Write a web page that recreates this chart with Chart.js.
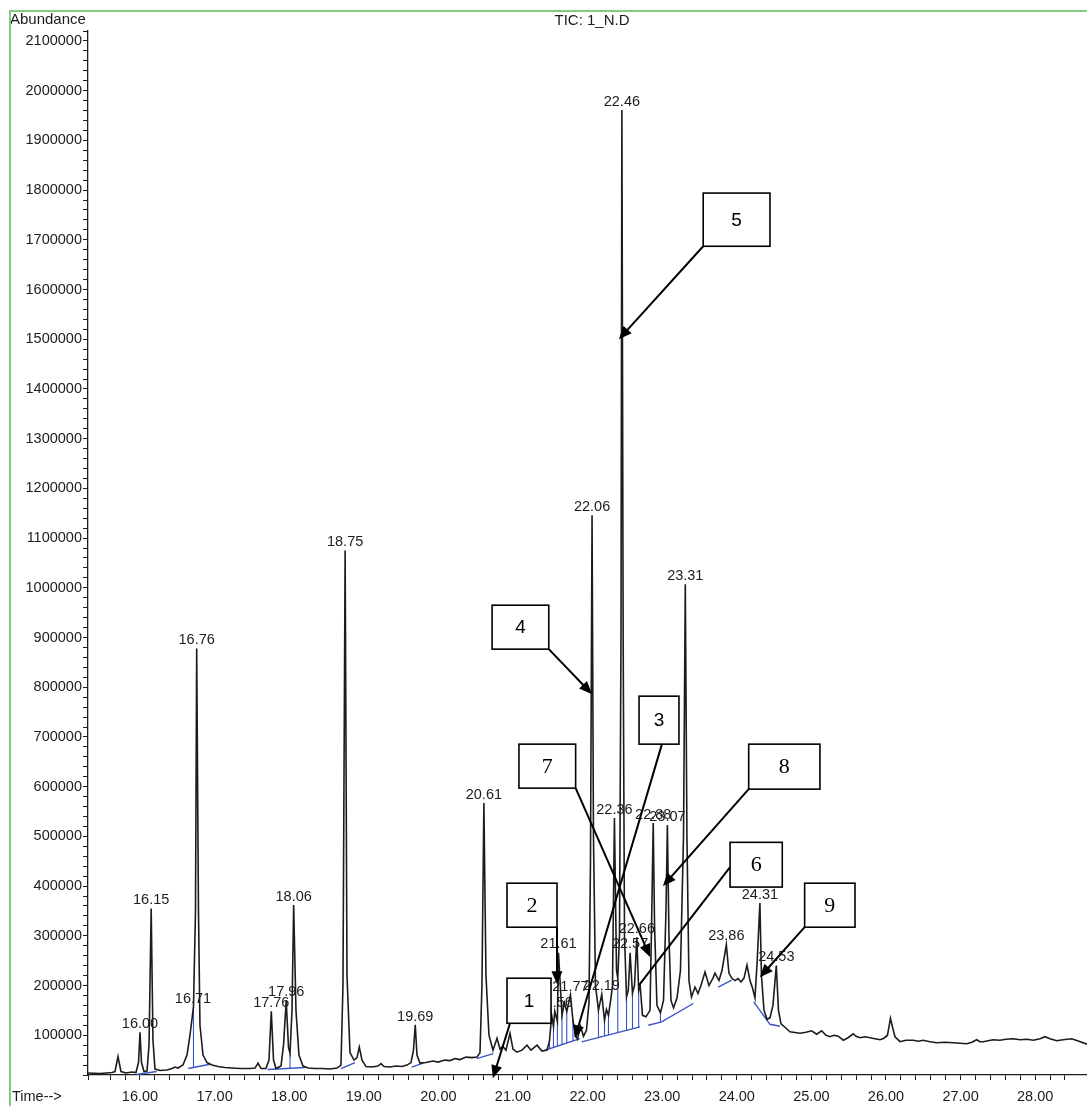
<!DOCTYPE html>
<html>
<head>
<meta charset="utf-8">
<script src="https://cdn.jsdelivr.net/npm/chart.js@4.4.0/dist/chart.umd.min.js"></script>
<style>
  html, body { margin: 0; padding: 0; background: #fff; }
  #wrap { width: 1087px; height: 1106px; }
</style>
</head>
<body>
<div id="wrap"><canvas id="tic" width="1087" height="1106"></canvas></div>
<script>
// TIC trace: [retention time (min), abundance]
const tracePoints = [
  [15.303, 24000], [15.464, 23000], [15.625, 25000], [15.665, 27000], [15.705, 57000], [15.745, 27000],
  [15.812, 24000], [15.893, 26000], [15.946, 25000], [15.98, 45000], [16.00, 106000], [16.02, 45000],
  [16.054, 27000], [16.094, 28000], [16.121, 80000], [16.15, 355000], [16.174, 90000], [16.201, 32000],
  [16.268, 29000], [16.362, 30000], [16.429, 33000], [16.469, 36000], [16.509, 34000], [16.576, 40000],
  [16.63, 60000], [16.67, 100000], [16.717, 157000], [16.744, 350000], [16.76, 878000], [16.784, 350000],
  [16.804, 120000], [16.845, 60000], [16.898, 45000], [16.965, 40000], [17.046, 37000], [17.139, 35000],
  [17.233, 34000], [17.34, 33000], [17.475, 33000], [17.542, 34000], [17.582, 44000], [17.622, 33000],
  [17.689, 33000], [17.729, 50000], [17.76, 148000], [17.79, 50000], [17.823, 33000], [17.89, 38000],
  [17.924, 80000], [17.96, 170000], [17.991, 75000], [18.011, 64000], [18.038, 150000], [18.06, 362000],
  [18.091, 150000], [18.131, 60000], [18.185, 38000], [18.252, 34000], [18.346, 33000], [18.44, 33000],
  [18.547, 32000], [18.641, 34000], [18.694, 40000], [18.721, 200000], [18.75, 1075000], [18.775, 220000],
  [18.815, 65000], [18.869, 50000], [18.909, 55000], [18.94, 76000], [18.976, 50000], [19.03, 37000],
  [19.11, 36000], [19.19, 38000], [19.231, 43000], [19.271, 37000], [19.351, 36000], [19.432, 38000],
  [19.512, 37000], [19.579, 40000], [19.633, 45000], [19.666, 70000], [19.69, 121000], [19.713, 60000],
  [19.753, 44000], [19.834, 45000], [19.928, 48000], [19.995, 46000], [20.088, 50000], [20.156, 49000],
  [20.223, 53000], [20.29, 51000], [20.37, 56000], [20.45, 55000], [20.517, 56000], [20.558, 65000],
  [20.584, 200000], [20.61, 567000], [20.638, 220000], [20.678, 100000], [20.732, 70000], [20.786, 94000],
  [20.826, 72000], [20.862, 78000], [20.906, 70000], [20.96, 104000], [21.00, 72000], [21.054, 66000],
  [21.121, 70000], [21.188, 80000], [21.241, 70000], [21.322, 80000], [21.389, 68000], [21.456, 70000],
  [21.489, 88000], [21.519, 140000], [21.543, 118000], [21.56, 148000], [21.595, 128000], [21.61, 266000],
  [21.657, 140000], [21.69, 165000], [21.721, 148000], [21.77, 181000], [21.804, 130000], [21.838, 100000],
  [21.865, 92000], [21.905, 118000], [21.945, 98000], [21.985, 110000], [22.019, 165000], [22.039, 450000],
  [22.06, 1146000], [22.079, 500000], [22.106, 200000], [22.146, 150000], [22.19, 182000], [22.227, 130000],
  [22.253, 152000], [22.28, 140000], [22.314, 175000], [22.334, 200000], [22.36, 537000], [22.388, 230000],
  [22.405, 215000], [22.428, 300000], [22.448, 900000], [22.46, 1961000], [22.477, 900000], [22.495, 300000],
  [22.522, 177000], [22.546, 190000], [22.57, 266000], [22.602, 185000], [22.629, 200000], [22.66, 297000],
  [22.685, 190000], [22.705, 200000], [22.736, 140000], [22.783, 137000], [22.837, 150000], [22.861, 350000],
  [22.88, 527000], [22.898, 320000], [22.93, 160000], [22.977, 145000], [23.018, 170000], [23.051, 350000],
  [23.07, 523000], [23.091, 300000], [23.118, 170000], [23.152, 155000], [23.199, 175000], [23.245, 230000],
  [23.286, 500000], [23.31, 1007000], [23.332, 500000], [23.359, 210000], [23.393, 177000], [23.44, 197000],
  [23.48, 184000], [23.52, 200000], [23.574, 227000], [23.628, 200000], [23.681, 215000], [23.708, 225000],
  [23.761, 210000], [23.802, 230000], [23.86, 282000], [23.895, 225000], [23.932, 215000], [23.976, 210000],
  [24.016, 214000], [24.057, 207000], [24.097, 215000], [24.137, 241000], [24.177, 210000], [24.211, 195000],
  [24.244, 175000], [24.274, 250000], [24.31, 366000], [24.331, 220000], [24.365, 150000], [24.405, 132000],
  [24.445, 135000], [24.485, 160000], [24.53, 240000], [24.559, 150000], [24.593, 123000], [24.646, 116000],
  [24.713, 107000], [24.847, 104000], [24.928, 106000], [25.004, 109000], [25.071, 102000], [25.138, 109000],
  [25.196, 100000], [25.249, 97000], [25.303, 100000], [25.361, 98000], [25.428, 90000], [25.491, 95000],
  [25.562, 103000], [25.598, 98000], [25.652, 95000], [25.718, 97000], [25.786, 95000], [25.853, 93000],
  [25.92, 91000], [25.973, 94000], [26.02, 100000], [26.044, 120000], [26.06, 134000], [26.085, 118000],
  [26.121, 97000], [26.188, 87000], [26.268, 90000], [26.366, 90000], [26.429, 88000], [26.5, 90000],
  [26.59, 87000], [26.68, 85000], [26.791, 86000], [26.902, 85000], [26.992, 84000], [27.082, 83000],
  [27.153, 86000], [27.216, 91000], [27.26, 87000], [27.305, 87000], [27.367, 89000], [27.438, 91000],
  [27.528, 90000], [27.609, 92000], [27.707, 93000], [27.796, 91000], [27.89, 92000], [27.975, 90000],
  [28.065, 93000], [28.131, 97000], [28.199, 93000], [28.289, 89000], [28.373, 91000], [28.489, 93000],
  [28.587, 88000], [28.695, 82000]
];

// integration baselines (blue), one sub-list per segment
const baselineSegments = [
  [[15.955, 21000], [16.224, 27000]],
  [[16.647, 33000], [16.938, 41600]],
  [[17.712, 31000], [18.212, 35000]],
  [[18.694, 33000], [18.882, 45000]],
  [[19.642, 36000], [19.798, 44000]],
  [[20.514, 53000], [20.736, 63000]],
  [[21.429, 69800], [21.898, 93300]],
  [[21.921, 86500], [22.702, 116700]],
  [[22.814, 120000], [22.993, 126800], [23.417, 163800]],
  [[23.752, 197000], [23.932, 210700]],
  [[24.227, 167000], [24.445, 122000], [24.579, 118000]]
];

// drop lines: time of the valley and baseline abundance under it
const dropTimes = [16.717, 18.011, 21.489, 21.543, 21.595, 21.657, 21.721, 21.804,
                   22.146, 22.227, 22.28, 22.405, 22.522, 22.602, 22.685, 22.977];
const dropBase  = [35000, 33000, 72800, 75500, 78100, 81200, 84400, 88600,
                   95200, 98300, 100400, 105200, 109800, 112900, 116100, 126200];

// labelled peaks: [retention time, apex abundance]
const peaks = [
  [16.00, 106000], [16.15, 355000], [16.71, 157000], [16.76, 878000], [17.76, 148000], [17.96, 170000],
  [18.06, 362000], [18.75, 1075000], [19.69, 121000], [20.61, 567000], [21.56, 148000], [21.61, 266000],
  [21.77, 181000], [22.06, 1146000], [22.19, 182000], [22.36, 537000], [22.46, 1961000], [22.57, 266000],
  [22.66, 297000], [22.88, 527000], [23.07, 523000], [23.31, 1007000], [23.86, 282000], [24.31, 366000],
  [24.53, 240000]
];

// numbered callout boxes: box = [t0, t1, top, bottom], arrow from -> to
const callouts = [
  { text: '1', serif: false, box: [20.92, 21.51, 214700, 124000], from: [20.96, 124000], to: [20.73, 13500], head: true },
  { text: '2', serif: true,  box: [20.92, 21.59, 405800, 317300], from: [21.59, 317300], to: [21.59, 202600], head: true },
  { text: '3', serif: false, box: [22.69, 23.225, 782000, 685500], from: [22.997, 685500], to: [21.83, 94000], head: true },
  { text: '4', serif: false, box: [20.72, 21.48, 965000, 876600], from: [21.48, 876600], to: [22.06, 786000], head: true },
  { text: '5', serif: false, box: [23.55, 24.445, 1794000, 1687000], from: [23.55, 1687000], to: [22.42, 1500000], head: true },
  { text: '6', serif: true,  box: [23.91, 24.61, 488000, 398000], from: [23.91, 438000], to: [22.69, 200600], head: false },
  { text: '7', serif: true,  box: [21.08, 21.84, 685500, 597000], from: [21.84, 597000], to: [22.84, 257000], head: true },
  { text: '8', serif: true,  box: [24.16, 25.115, 685500, 595000], from: [24.16, 595000], to: [23.01, 400000], head: true },
  { text: '9', serif: true,  box: [24.91, 25.585, 405800, 317300], from: [24.91, 317300], to: [24.31, 216700], head: true }
];

const SANS = '"Liberation Sans", Arial, sans-serif';
const INK = '#1c1c1c';

const traceData = tracePoints.map(p => ({ x: p[0], y: p[1] }));

const baselineData = [];
baselineSegments.forEach(seg => {
  seg.forEach(p => baselineData.push({ x: p[0], y: p[1] }));
  baselineData.push({ x: seg[seg.length - 1][0], y: null });
});

const dropData = [];
dropTimes.forEach((t, i) => {
  const top = tracePoints.find(p => p[0] === t);
  dropData.push({ x: t, y: dropBase[i] }, { x: t, y: top[1] }, { x: t, y: null });
});

function arrowTo(ctx, x0, y0, x1, y1, head) {
  const ang = Math.atan2(y1 - y0, x1 - x0);
  const len = 13, half = 5.5;
  const ex = head ? x1 - Math.cos(ang) * (len - 1) : x1;
  const ey = head ? y1 - Math.sin(ang) * (len - 1) : y1;
  ctx.beginPath();
  ctx.moveTo(x0, y0);
  ctx.lineTo(ex, ey);
  ctx.stroke();
  if (!head) return;
  ctx.beginPath();
  ctx.moveTo(x1, y1);
  ctx.lineTo(x1 - Math.cos(ang) * len - Math.sin(ang) * half, y1 - Math.sin(ang) * len + Math.cos(ang) * half);
  ctx.lineTo(x1 - Math.cos(ang) * len + Math.sin(ang) * half, y1 - Math.sin(ang) * len - Math.cos(ang) * half);
  ctx.closePath();
  ctx.fill();
}

const overlay = {
  id: 'overlay',
  afterDatasetsDraw(chart) {
    const { ctx, scales: { x, y } } = chart;
    ctx.save();
    ctx.font = '14.5px ' + SANS;
    ctx.fillStyle = INK;
    ctx.textAlign = 'center';
    ctx.textBaseline = 'bottom';
    peaks.forEach(p => {
      ctx.fillText(p[0].toFixed(2), x.getPixelForValue(p[0]), y.getPixelForValue(p[1]) - 1);
    });
    ctx.restore();
  },
  afterDraw(chart) {
    const { ctx, scales: { x, y } } = chart;
    ctx.save();

    // callouts
    callouts.forEach(c => {
      const l = x.getPixelForValue(c.box[0]), r = x.getPixelForValue(c.box[1]);
      const t = y.getPixelForValue(c.box[2]), b = y.getPixelForValue(c.box[3]);
      ctx.fillStyle = '#fff';
      ctx.fillRect(l, t, r - l, b - t);
      ctx.strokeStyle = '#000';
      ctx.lineWidth = 1.6;
      ctx.strokeRect(l, t, r - l, b - t);
      ctx.fillStyle = '#000';
      ctx.font = c.serif ? '22px "Liberation Serif", "Times New Roman", serif' : '19px ' + SANS;
      ctx.textAlign = 'center';
      ctx.textBaseline = 'middle';
      ctx.fillText(c.text, (l + r) / 2, (t + b) / 2 + 1);
      ctx.lineWidth = 2;
      arrowTo(ctx, x.getPixelForValue(c.from[0]), y.getPixelForValue(c.from[1]),
              x.getPixelForValue(c.to[0]), y.getPixelForValue(c.to[1]), c.head);
    });

    // instrument texts
    ctx.fillStyle = INK;
    ctx.textBaseline = 'middle';
    ctx.font = '15px ' + SANS;
    ctx.textAlign = 'left';
    ctx.fillText('Abundance', 10, 20);
    ctx.textAlign = 'center';
    ctx.fillText('TIC: 1_N.D', 592, 21);
    ctx.font = '14.5px ' + SANS;
    ctx.textAlign = 'left';
    ctx.fillText('Time-->', 12, 1097);

    // green frame of the screenshot
    ctx.strokeStyle = '#82cc82';
    ctx.lineWidth = 2;
    ctx.beginPath();
    ctx.moveTo(10, 1106);
    ctx.lineTo(10, 11);
    ctx.lineTo(1087, 11);
    ctx.stroke();
    ctx.restore();
  }
};

new Chart(document.getElementById('tic'), {
  type: 'line',
  data: {
    datasets: [
      { data: dropData, borderColor: '#3b55c4', borderWidth: 1.1, pointRadius: 0, spanGaps: false, order: 3 },
      { data: baselineData, borderColor: '#3b55c4', borderWidth: 1.4, pointRadius: 0, spanGaps: false, order: 2 },
      { data: traceData, borderColor: INK, borderWidth: 1.6, pointRadius: 0, tension: 0, order: 1 }
    ]
  },
  options: {
    responsive: false,
    animation: false,
    devicePixelRatio: 1,
    layout: { padding: { top: 31, left: 0, right: 0, bottom: 0 } },
    plugins: { legend: { display: false }, tooltip: { enabled: false } },
    scales: {
      x: {
        type: 'linear',
        min: 15.303,
        max: 28.695,
        grid: { drawOnChartArea: false, drawTicks: true, tickLength: 5, tickColor: INK },
        border: { display: true, color: INK, width: 1.3 },
        ticks: {
          stepSize: 0.2,
          autoSkip: false,
          maxRotation: 0,
          padding: 8,
          color: INK,
          font: { family: SANS, size: 14.5 },
          callback: v => Math.abs(v - Math.round(v)) < 1e-6 ? v.toFixed(2) : ''
        },
        afterFit: s => { s.height = 31; s.paddingLeft = 0; s.paddingRight = 0; }
      },
      y: {
        min: 20000,
        max: 2120000,
        grid: { drawOnChartArea: false, drawTicks: true, tickLength: 5, tickColor: INK },
        border: { display: true, color: INK, width: 1.3 },
        ticks: {
          stepSize: 20000,
          autoSkip: false,
          padding: 1,
          color: INK,
          font: { family: SANS, size: 14.5 },
          callback: v => Math.round(v) % 100000 === 0 ? String(Math.round(v)) : ''
        },
        afterFit: s => { s.width = 88; s.paddingTop = 0; s.paddingBottom = 0; }
      }
    }
  },
  plugins: [overlay]
});
</script>
</body>
</html>
